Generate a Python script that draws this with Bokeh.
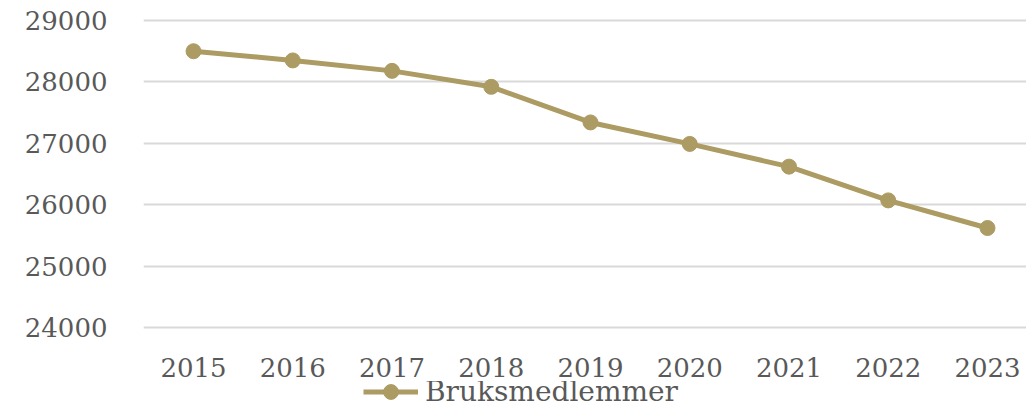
from bokeh.plotting import figure
from bokeh.layouts import column
from bokeh.models import FixedTicker, Legend, LegendItem, Range1d
from bokeh.embed import file_html
from bokeh.resources import INLINE

years = [2015, 2016, 2017, 2018, 2019, 2020, 2021, 2022, 2023]
members = [28500, 28350, 28180, 27920, 27340, 26990, 26620, 26070, 25620]
y_ticks = [24000, 25000, 26000, 27000, 28000, 29000]
series_name = "Bruksmedlemmer"

COLOR = "#ac9b62"
TEXT = "#595959"
FONT = "DejaVu Serif"

p = figure(width=1026, height=381, output_backend="svg", toolbar_location=None,
           x_range=Range1d(2014.496, 2023.393), y_range=Range1d(23967, 29033),
           min_border_left=143, min_border_right=0, min_border_top=18, min_border_bottom=52)
p.outline_line_color = None

p.line(years, members, line_color=COLOR, line_width=5)
p.scatter(years, members, size=15, fill_color=COLOR, line_color=COLOR)

p.xgrid.grid_line_color = None
p.ygrid.grid_line_color = "#d9d9d9"
p.ygrid.grid_line_width = 2
p.ygrid.ticker = FixedTicker(ticks=y_ticks)

for ax in (p.xaxis[0], p.yaxis[0]):
    ax.axis_line_color = None
    ax.major_tick_line_color = None
    ax.minor_tick_line_color = None
    ax.major_label_text_font = FONT
    ax.major_label_text_font_size = "26px"
    ax.major_label_text_color = TEXT

p.xaxis.ticker = FixedTicker(ticks=years)
p.yaxis.ticker = FixedTicker(ticks=y_ticks)
p.yaxis.major_label_standoff = 30
p.xaxis.major_label_standoff = 22

# legend strip below the chart (its ranges keep the series itself out of view)
lg = figure(width=1026, height=24, output_backend="svg", toolbar_location=None,
            x_axis_type=None, y_axis_type=None, x_range=Range1d(0, 1), y_range=Range1d(0, 1),
            min_border_left=0, min_border_right=0, min_border_top=0, min_border_bottom=0)
lg.outline_line_color = None
lg.xgrid.grid_line_color = None
lg.ygrid.grid_line_color = None
l_line = lg.line(years, members, line_color=COLOR, line_width=5)
l_pts = lg.scatter(years, members, size=15, fill_color=COLOR, line_color=COLOR)
legend = Legend(items=[LegendItem(label=series_name, renderers=[l_line, l_pts])],
                location=(220, -5), orientation="horizontal",
                padding=0, margin=0, border_line_color=None, background_fill_alpha=0,
                glyph_width=55, glyph_height=37, label_height=20, label_standoff=7,
                label_text_font=FONT, label_text_font_size="28px", label_text_color=TEXT)
lg.add_layout(legend, "center")

layout = column(p, lg, spacing=0)
open("out.html", "w").write(file_html(layout, INLINE))
